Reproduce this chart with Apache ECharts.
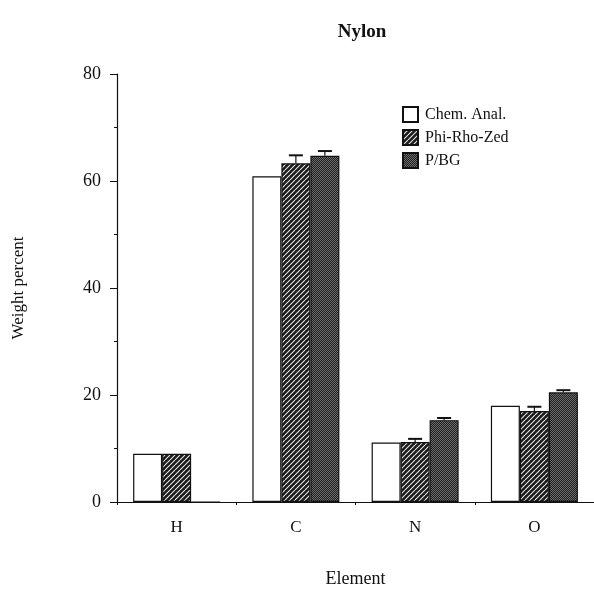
<!DOCTYPE html>
<html>
<head>
	<meta charset="UTF-8">
	<title>Nylon</title>
	<style>
		html, body { margin: 0; padding: 0; background: #fff; }
		#chart { width: 594px; height: 593px; }
	</style>
	<script src="https://cdn.jsdelivr.net/npm/echarts@6/dist/echarts.min.js"></script>
</head>
<body>
	<div id="chart"></div>
	<script>
		var elements = ['H', 'C', 'N', 'O'];
		var seriesNames = ['Chem. Anal.', 'Phi-Rho-Zed', 'P/BG'];
		var chemAnal = [9.0, 60.9, 11.1, 18.0];
		var phiRhoZed = [9.0, 63.3, 11.2, 17.0];
		var pbg = [0, 64.7, 15.3, 20.5];
		// upper error (only the top whisker shows)
		var phiRhoZedErr = [0, 1.5, 0.6, 0.8];
		var pbgErr = [0, 0.9, 0.4, 0.4];

		var font = 'Liberation Serif';
		var barW = 29;

		// diagonal hatch pattern
		function hatch() {
			var c = document.createElement('canvas');
			c.width = 5; c.height = 5;
			var g = c.getContext('2d');
			g.fillStyle = '#1a1a1a';
			g.fillRect(0, 0, 5, 5);
			g.strokeStyle = '#e8e8e8';
			g.lineWidth = 1.1;
			for (var k = -5; k <= 5; k += 5) {
				g.beginPath();
				g.moveTo(k, 5);
				g.lineTo(k + 5, 0);
				g.stroke();
			}
			return c;
		}

		// fine dotted grey pattern
		function dots() {
			var c = document.createElement('canvas');
			c.width = 2; c.height = 2;
			var g = c.getContext('2d');
			g.fillStyle = '#222';
			g.fillRect(0, 0, 2, 2);
			g.fillStyle = '#6a6a6a';
			g.fillRect(0, 0, 1, 1);
			g.fillRect(1, 1, 1, 1);
			return c;
		}

		var myChart = echarts.init(document.getElementById('chart'));

		function errSeries(vals, errs, offset) {
			var data = [];
			for (var i = 0; i < vals.length; i++) {
				if (errs[i] > 0) data.push([i, vals[i], vals[i] + errs[i]]);
			}
			return {
				type: 'custom',
				silent: true,
				z: 5,
				data: data,
				renderItem: function (params, api) {
					var lo = api.coord([api.value(0), api.value(1)]);
					var hi = api.coord([api.value(0), api.value(2)]);
					var x = lo[0] + offset;
					var half = 7;
					return {
						type: 'group',
						children: [
							{ type: 'line', shape: { x1: x, y1: lo[1], x2: x, y2: hi[1] }, style: { stroke: '#111', lineWidth: 1.2 } },
							{ type: 'line', shape: { x1: x - half, y1: hi[1], x2: x + half, y2: hi[1] }, style: { stroke: '#111', lineWidth: 2 } }
						]
					};
				}
			};
		}

		var option = {
			animation: false,
			backgroundColor: '#fff',
			title: {
				text: 'Nylon',
				left: 357,
				textAlign: 'center',
				top: 18,
				textStyle: { fontFamily: font, fontSize: 19, fontWeight: 'bold', color: '#111' }
			},
			legend: {
				orient: 'vertical',
				left: 397,
				top: 101,
				itemWidth: 15,
				itemHeight: 15,
				itemGap: 6,
				icon: 'rect',
				textStyle: { fontFamily: font, fontSize: 16, lineHeight: 15, color: '#111', padding: [0, 0, 0, 2] },
				data: seriesNames
			},
			grid: { left: 117, right: 0, top: 74, bottom: 87 },
			xAxis: {
				type: 'category',
				data: elements,
				name: 'Element',
				nameLocation: 'middle',
				nameGap: 68,
				nameTextStyle: { fontFamily: font, fontSize: 18, color: '#111' },
				axisLine: { lineStyle: { color: '#111', width: 1.2 } },
				axisTick: { show: true, length: 3, lineStyle: { color: '#111' } },
				axisLabel: { fontFamily: font, fontSize: 17, color: '#111', margin: 17 }
			},
			yAxis: {
				type: 'value',
				min: 0,
				max: 80,
				interval: 20,
				name: 'Weight percent',
				nameLocation: 'middle',
				nameGap: 90,
				nameRotate: 90,
				nameTextStyle: { fontFamily: font, fontSize: 17, color: '#111' },
				axisLine: { show: true, lineStyle: { color: '#111', width: 1.2 } },
				axisTick: { show: true, length: 7, lineStyle: { color: '#111' } },
				minorTick: { show: true, splitNumber: 2, length: 3, lineStyle: { color: '#111' } },
				splitLine: { show: false },
				axisLabel: { fontFamily: font, fontSize: 18, color: '#111', margin: 16 }
			},
			series: [
				{
					name: seriesNames[0],
					type: 'bar',
					data: chemAnal,
					barWidth: barW,
					barGap: '0%',
					itemStyle: { color: '#fff', borderColor: '#111', borderWidth: 1.2 }
				},
				{
					name: seriesNames[1],
					type: 'bar',
					data: phiRhoZed,
					barWidth: barW,
					barGap: '0%',
					itemStyle: { color: { image: hatch(), repeat: 'repeat' }, borderColor: '#111', borderWidth: 1.2 }
				},
				{
					name: seriesNames[2],
					type: 'bar',
					data: pbg,
					barWidth: barW,
					barGap: '0%',
					itemStyle: { color: { image: dots(), repeat: 'repeat' }, borderColor: '#111', borderWidth: 1.2 }
				},
				errSeries(phiRhoZed, phiRhoZedErr, 0),
				errSeries(pbg, pbgErr, barW)
			]
		};

		myChart.setOption(option);
	</script>
</body>
</html>
